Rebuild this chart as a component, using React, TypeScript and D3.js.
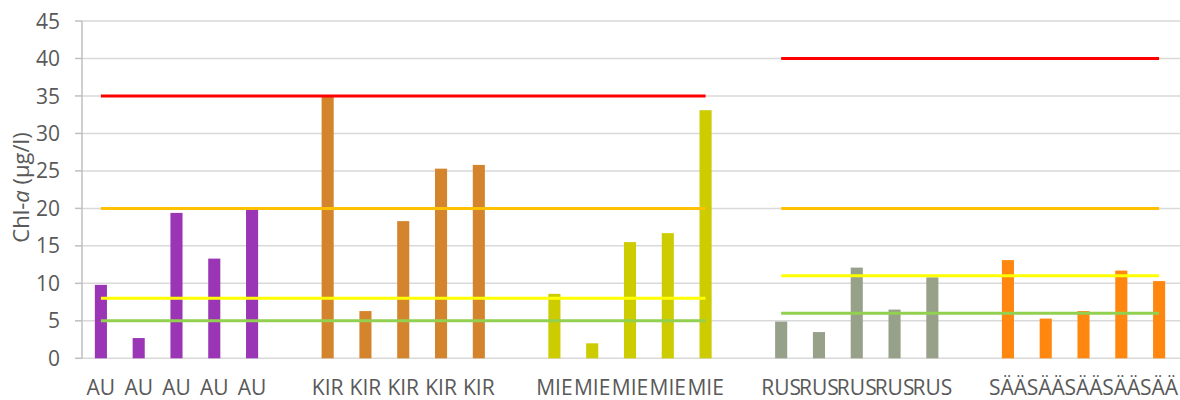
import React from "react";
import * as d3 from "d3";

const slotLabels = [
  "AU", "AU", "AU", "AU", "AU", "",
  "KIR", "KIR", "KIR", "KIR", "KIR", "",
  "MIE", "MIE", "MIE", "MIE", "MIE", "",
  "RUS", "RUS", "RUS", "RUS", "RUS", "",
  "SÄÄ", "SÄÄ", "SÄÄ", "SÄÄ", "SÄÄ",
];

const auValues = [9.8, 2.7, 19.4, 13.3, 19.8];
const kirValues = [34.9, 6.3, 18.3, 25.3, 25.8];
const mieValues = [8.6, 2.0, 15.5, 16.7, 33.1];
const rusValues = [4.9, 3.5, 12.1, 6.5, 10.8];
const saaValues = [13.1, 5.3, 6.3, 11.7, 10.3];

const groupColors = ["#9A36B5", "#D5842E", "#CCCC00", "#97A088", "#FF870F"];
const groupValues = [auValues, kirValues, mieValues, rusValues, saaValues];

const N = null;
const redLine = [35, 35, 35, 35, 35, 35, 35, 35, 35, 35, 35, 35, 35, 35, 35, 35, 35, N, 40, 40, 40, 40, 40, 40, 40, 40, 40, 40, 40];
const orangeLine = [20, 20, 20, 20, 20, 20, 20, 20, 20, 20, 20, 20, 20, 20, 20, 20, 20, N, 20, 20, 20, 20, 20, 20, 20, 20, 20, 20, 20];
const yellowLine = [8, 8, 8, 8, 8, 8, 8, 8, 8, 8, 8, 8, 8, 8, 8, 8, 8, N, 11, 11, 11, 11, 11, 11, 11, 11, 11, 11, 11];
const greenLine = [5, 5, 5, 5, 5, 5, 5, 5, 5, 5, 5, 5, 5, 5, 5, 5, 5, N, 6, 6, 6, 6, 6, 6, 6, 6, 6, 6, 6];

const lineSeries = [
  { values: greenLine, color: "#92D050" },
  { values: yellowLine, color: "#FFFF00" },
  { values: orangeLine, color: "#FFC000" },
  { values: redLine, color: "#FF0000" },
];

const yTicks = [0, 5, 10, 15, 20, 25, 30, 35, 40, 45];

const W = 1180;
const H = 400;
const left = 82;
const right = 1178;
const top = 21;
const bottom = 358.3;
const FONT = "'Open Sans', 'Noto Sans', sans-serif";
const TEXT = "#595959";

export default function App() {
  const idx = slotLabels.map((_, i) => i);
  const x = d3.scaleBand<number>().domain(idx).range([left, right]).padding(0);
  const y = d3.scaleLinear().domain([0, 45]).range([bottom, top]);
  const bw = x.bandwidth() * 0.32;
  const cx = (i: number) => (x(i) as number) + x.bandwidth() / 2;

  const bars: { slot: number; v: number; color: string }[] = [];
  let slot = 0;
  groupValues.forEach((vals, g) => {
    vals.forEach((v) => {
      bars.push({ slot, v, color: groupColors[g] });
      slot++;
    });
    slot++;
  });

  const lineGen = d3
    .line<number | null>()
    .defined((d) => d !== null)
    .x((_, i) => cx(i))
    .y((d) => y(d as number));

  return (
    <svg
      width={W}
      height={H}
      style={{ position: "absolute", left: 0, top: 0, background: "#fff" }}
      fontFamily={FONT}
    >
      {yTicks.map((t) => (
        <g key={t}>
          <line x1={left} x2={W} y1={y(t)} y2={y(t)} stroke="#D9D9D9" strokeWidth={1.5} />
          <line x1={75} x2={left} y1={y(t)} y2={y(t)} stroke="#BFBFBF" strokeWidth={1.5} />
          <text x={60} y={y(t)} dy="0.36em" textAnchor="end" fontSize={21} fill={TEXT}>
            {t}
          </text>
        </g>
      ))}
      <line x1={left} x2={left} y1={top} y2={bottom} stroke="#BFBFBF" strokeWidth={1.5} />
      <text
        transform={`translate(29, 187.5) rotate(-90)`}
        textAnchor="middle"
        fontSize={22}
        fill={TEXT}
      >
        Chl-<tspan fontStyle="italic">a</tspan> (µg/l)
      </text>
      {bars.map((b, i) => (
        <rect
          key={i}
          x={cx(b.slot) - bw / 2}
          y={y(b.v)}
          width={bw}
          height={y(0) - y(b.v)}
          fill={b.color}
        />
      ))}
      {lineSeries.map((s, i) => (
        <path key={i} d={lineGen(s.values) || ""} fill="none" stroke={s.color} strokeWidth={3} />
      ))}
      {slotLabels.map((l, i) => (
        <text key={i} x={cx(i)} y={395} textAnchor="middle" fontSize={21} fill={TEXT}>
          {l}
        </text>
      ))}
    </svg>
  );
}
